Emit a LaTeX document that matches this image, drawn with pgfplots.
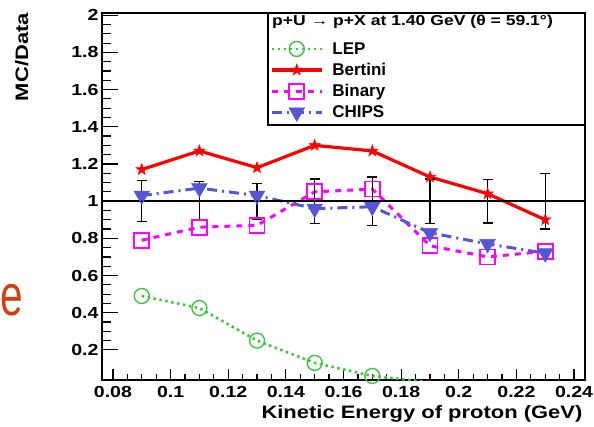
\documentclass[border=0pt]{standalone}
\usepackage{fontspec}
\setmainfont{Liberation Sans}
\newfontfamily\widesans{Liberation Sans}[FakeStretch=1.22]
\usepackage{pgfplots}
\pgfplotsset{compat=1.18}

\definecolor{lepgreen}{RGB}{60,200,60}
\definecolor{bertred}{RGB}{255,0,0}
\definecolor{binmag}{RGB}{255,0,255}
\definecolor{chipsblue}{RGB}{85,85,215}
\definecolor{slidered}{RGB}{208,64,16}

% filled five-pointed star marker
\pgfdeclareplotmark{fstar}{%
  \pgfpathmoveto{\pgfpointpolar{90}{\pgfplotmarksize}}%
  \pgfpathlineto{\pgfpointpolar{126}{0.4\pgfplotmarksize}}%
  \pgfpathlineto{\pgfpointpolar{162}{\pgfplotmarksize}}%
  \pgfpathlineto{\pgfpointpolar{198}{0.4\pgfplotmarksize}}%
  \pgfpathlineto{\pgfpointpolar{234}{\pgfplotmarksize}}%
  \pgfpathlineto{\pgfpointpolar{270}{0.4\pgfplotmarksize}}%
  \pgfpathlineto{\pgfpointpolar{306}{\pgfplotmarksize}}%
  \pgfpathlineto{\pgfpointpolar{342}{0.4\pgfplotmarksize}}%
  \pgfpathlineto{\pgfpointpolar{18}{\pgfplotmarksize}}%
  \pgfpathlineto{\pgfpointpolar{54}{0.4\pgfplotmarksize}}%
  \pgfpathclose\pgfusepathqfillstroke}

\pgfplotstableread{
x     y    e
0.09  1.0  0.110
0.11  1.0  0.105
0.13  1.0  0.095
0.15  1.0  0.120
0.17  1.0  0.130
0.19  1.0  0.120
0.21  1.0  0.117
0.23  1.0  0.150
}\datatable

\begin{document}
\begin{tikzpicture}
\begin{axis}[
  at={(0pt,0pt)}, anchor=south west,
  scale only axis, width=483pt, height=367pt,
  xmin=0.0762, xmax=0.2438, ymin=0.038, ymax=2.012,
  xtick={0.08,0.1,0.12,0.14,0.16,0.18,0.2,0.22,0.24},
  xticklabels={0.08,0.1,0.12,0.14,0.16,0.18,0.2,0.22,0.24},
  ytick={0.2,0.4,0.6,0.8,1,1.2,1.4,1.6,1.8,2},
  yticklabels={0.2,0.4,0.6,0.8,1,1.2,1.4,1.6,1.8,2},
  minor x tick num=3, minor y tick num=3,
  xtick pos=left, ytick pos=left, tick align=inside,
  major tick length=16pt, minor tick length=9pt,
  xtick style={/pgfplots/major tick length=11pt,/pgfplots/minor tick length=6pt},
  tick style={black, line width=1.2pt},
  axis line style={line width=1.6pt},
  ticklabel style={font=\widesans\bfseries\fontsize{16}{16}\selectfont},
  x tick label style={yshift=-3pt},
  /pgf/number format/assume math mode=true,
  label style={font=\widesans\bfseries\fontsize{18}{18}\selectfont},
  xlabel={Kinetic Energy of proton (GeV)},
  ylabel={MC/Data},
  xlabel style={at={(axis description cs:0.995,0)}, anchor=base east, yshift=-38pt, inner sep=0pt},
  ylabel style={at={(axis description cs:-0.1532,1)}, anchor=base east, inner sep=0pt},
  legend style={at={(rel axis cs:0.3478,0.926)}, anchor=north west,
    draw=none, fill=none, inner sep=0pt, row sep=3.5pt, column sep=7pt,
    font=\bfseries\fontsize{17}{17}\selectfont},
  legend cell align=left,
  legend image code/.code={%
    \draw[mark repeat=2,mark phase=2,#1] plot coordinates {(0pt,0pt) (25pt,0pt) (50pt,0pt)};},
]
% legend frame and header
\draw[line width=1.3pt, fill=white] (rel axis cs:0.3437,0.6948) rectangle (rel axis cs:1,1);
\node[anchor=west, inner sep=0pt, font=\widesans\bfseries\fontsize{14.4}{14.4}\selectfont]
  at (rel axis cs:0.352,0.9755) {p+U → p+X at 1.40 GeV (θ = 59.1°)};

% LEP
\addplot[lepgreen, line width=2.6pt, dash pattern=on 2.5pt off 3.5pt,
  mark=o, mark size=7.5pt, mark options={solid, line width=1.4pt}]
  coordinates {(0.09,0.49) (0.11,0.425) (0.13,0.25) (0.15,0.13) (0.17,0.06)};
\addlegendentry{LEP}
\addplot[lepgreen, line width=2.6pt, dash pattern=on 2.5pt off 3.5pt, forget plot]
  coordinates {(0.17,0.06) (0.19,0.026) (0.21,0.01) (0.23,0.01)};

% Bertini
\addplot[bertred, line width=3.2pt, mark=fstar, mark size=6pt,
  mark options={solid, line width=0.5pt, fill=bertred}]
  coordinates {(0.09,1.17) (0.11,1.27) (0.13,1.18) (0.15,1.30) (0.17,1.27) (0.19,1.13) (0.21,1.04) (0.23,0.90)};
\addlegendentry{Bertini}

% Binary
\addplot[binmag, line width=3pt, dash pattern=on 6pt off 6pt,
  mark=square, mark size=7.5pt, mark options={solid, line width=1.8pt}]
  coordinates {(0.09,0.79) (0.11,0.86) (0.13,0.87) (0.15,1.05) (0.17,1.065) (0.19,0.76) (0.21,0.70) (0.23,0.73)};
\addlegendentry{Binary}

% CHIPS
\addplot[chipsblue, line width=3pt, dash pattern=on 10pt off 5pt on 2pt off 5pt,
  mark=triangle*, mark size=9pt, mark options={solid, rotate=180, fill=chipsblue, line width=0.5pt}]
  coordinates {(0.09,1.03) (0.11,1.07) (0.13,1.03) (0.15,0.96) (0.17,0.97) (0.19,0.83) (0.21,0.77) (0.23,0.72)};
\addlegendentry{CHIPS}

% reference line and data uncertainties
\addplot[black, line width=1.4pt, forget plot] coordinates {(0.0762,1) (0.2438,1)};
\addplot[black, line width=1.4pt, mark=*, mark size=0.01pt, forget plot,
  error bars/.cd, y dir=both, y explicit, error mark=-,
  error bar style={line width=1.4pt, black},
  error mark options={black, line width=1.4pt, mark size=5pt, rotate=90}]
  table[x=x, y=y, y error=e] {\datatable};
\end{axis}
\node[anchor=base west, inner sep=0pt, xscale=0.7, text=slidered, font=\fontsize{58}{58}\selectfont]
  at (-102pt,65pt) {e};
\pgfresetboundingbox
\useasboundingbox (-102pt,-46pt) rectangle (492pt,380pt);
\end{tikzpicture}
\end{document}
